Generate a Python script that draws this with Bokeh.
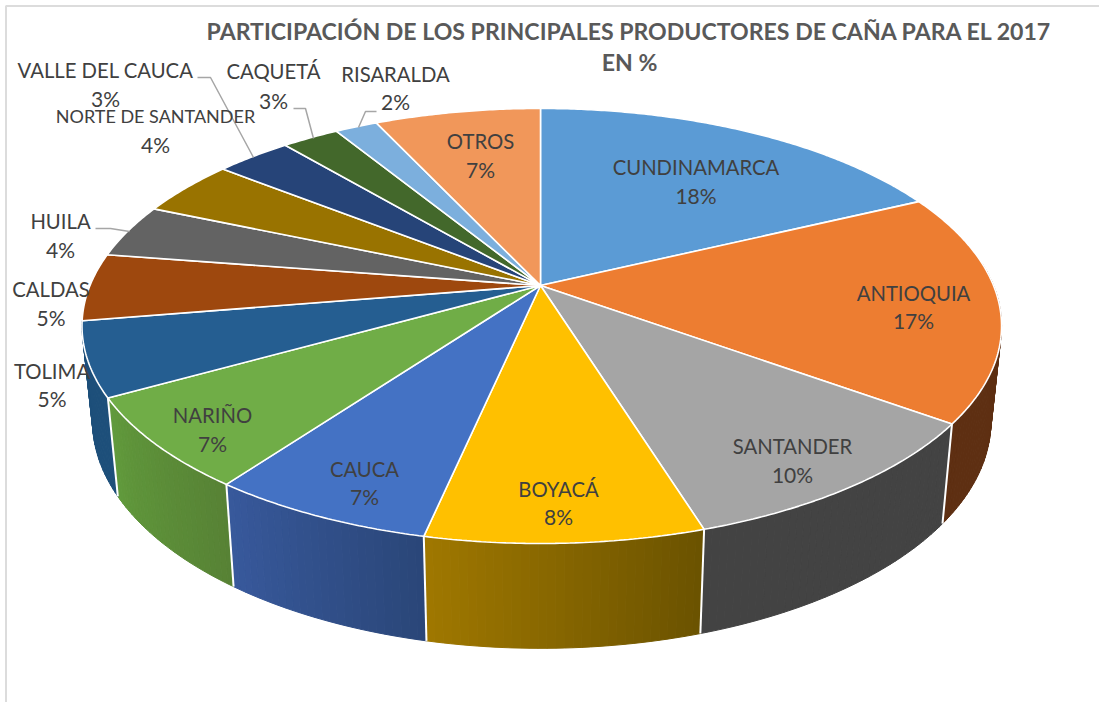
import numpy as np
from bokeh.core.properties import value
from bokeh.embed import file_html
from bokeh.models import Range1d
from bokeh.plotting import figure
from bokeh.resources import INLINE

TITLE_LINES = ["PARTICIPACIÓN DE LOS PRINCIPALES PRODUCTORES DE CAÑA PARA EL 2017", "EN %"]

categories = ["CUNDINAMARCA", "ANTIOQUIA", "SANTANDER", "BOYACÁ", "CAUCA", "NARIÑO", "TOLIMA",
              "CALDAS", "HUILA", "NORTE DE SANTANDER", "VALLE DEL CAUCA", "CAQUETÁ", "RISARALDA", "OTROS"]
# shares estimated from the slice boundaries in the picture
shares = [17.9, 17.1, 10.2, 8.2, 6.7, 6.8, 5.5, 5.0, 4.0, 4.2, 3.2, 2.4, 1.8, 7.0]
# percentages as printed on the labels
printed = ["18%", "17%", "10%", "8%", "7%", "7%", "5%", "5%", "4%", "4%", "3%", "3%", "2%", "7%"]

top_colors = ["#5b9bd5", "#ed7d31", "#a5a5a5", "#ffc000", "#4472c4", "#70ad47", "#255e91",
              "#9e480e", "#636363", "#997300", "#264478", "#43682b", "#7cafdd", "#f1975a"]
wall_from = ["#5e2f12", "#5e2f12", "#434343", "#6a5200", "#2a4678", "#578235", "#1d4f7a",
             None, None, None, None, None, None, None]
wall_to = ["#5e2f12", "#5e2f12", "#434343", "#a07800", "#38599c", "#619a3c", "#1d4f7a",
           None, None, None, None, None, None, None]

# label layout (picture pixels): centre x, y of name line, y of percent line, font px
label_x = [695.5, 913, 792, 558, 364, 212, 51.5, 50.5, 60, 155, 105, 273, 395, 480]
name_y = [166, 292, 445, 488, 468, 414, 370, 288, 220, 115, 69, 70, 73, 140]
pct_y = [195, 320, 474, 516, 496, 443, 398, 317, 249, 144, 98, 100, 101, 169]
name_px = [20.3, 20.3, 20.3, 20.3, 20.3, 20.3, 20.3, 20.3, 20.3, 18, 20.3, 20.3, 20.3, 20.3]

leader_x = [[197, 210, 253], [293, 305, 313], [376, 365, 358], [95, 110, 129]]
leader_y = [[77, 77, 157], [108, 108, 138], [111, 111, 127], [228, 228, 231]]

# perspective of the disc
CX, CY, A_LEFT, A_RIGHT, B, K = 540.0, 285.0, 450.5, 453.0, 210.0, 0.186
SX, SY, Y0 = 0.977, 1.044, 378.5


def top_xy(frac):
    a = 2 * np.pi * np.asarray(frac)
    u, v = np.sin(a), np.cos(a)
    w = 1 + K * v
    return CX + np.where(u > 0, A_RIGHT, A_LEFT) * u / w, CY - B * v / w


def low_xy(frac):
    x, y = top_xy(frac)
    return CX + SX * (x - CX), Y0 + SY * (y - CY)


def hex2rgb(c):
    return np.array([int(c[i:i + 2], 16) for i in (1, 3, 5)], dtype=float)


def mix(c0, c1, t):
    r = hex2rgb(c0) * (1 - t) + hex2rgb(c1) * t
    return "#%02x%02x%02x" % tuple(int(round(q)) for q in r)


p = figure(width=1099, height=702, output_backend="svg", toolbar_location=None,
           x_range=Range1d(0, 1099), y_range=Range1d(702, 0), min_border=0,
           x_axis_type="linear", background_fill_color="white", border_fill_color="white")
p.styles = {"position": "absolute", "left": "0px", "top": "0px"}
p.axis.visible = False
p.grid.visible = False
p.outline_line_color = None

# frame of the picture
p.line([5.5, 5.5, 1099], [702, 5.5, 5.5], line_color="#dcdcdc", line_width=2)

edges = np.concatenate([[0], np.cumsum(shares)]) / sum(shares)

# side walls, drawn as thin strips so the shading can vary
xs, ys, cols = [], [], []
sep_x, sep_y = [], []
for i in range(len(categories)):
    if wall_from[i] is None:
        continue
    f0, f1 = edges[i], edges[i + 1]
    n = max(int((f1 - f0) * 400), 2)
    fr = np.linspace(f0, f1, n + 1)
    tx, ty = top_xy(fr)
    lx, ly = low_xy(fr)
    for j in range(n):
        if np.cos(2 * np.pi * fr[j]) > 0.1 and np.cos(2 * np.pi * fr[j + 1]) > 0.1:
            continue
        xs.append([tx[j], tx[j + 1], lx[j + 1], lx[j]])
        ys.append([ty[j], ty[j + 1], ly[j + 1], ly[j]])
        cols.append(mix(wall_from[i], wall_to[i], (j + 0.5) / n))
    if i < 6:
        sep_x.append([tx[-1], lx[-1]])
        sep_y.append([ty[-1], ly[-1]])
p.patches(xs, ys, fill_color=cols, line_color=cols, line_width=1)
p.multi_line(sep_x, sep_y, line_color="white", line_width=2)

# top face
xs, ys = [], []
for i in range(len(categories)):
    fr = np.linspace(edges[i], edges[i + 1], max(int((edges[i + 1] - edges[i]) * 720), 3))
    tx, ty = top_xy(fr)
    xs.append([CX] + list(tx))
    ys.append([CY] + list(ty))
p.patches(xs, ys, fill_color=top_colors, line_color="white", line_width=1.6)

# leader lines
p.multi_line(leader_x, leader_y, line_color="#a6a6a6", line_width=1.5)

# labels
FONT = value("Lato")
p.text(label_x, name_y, text=categories, text_font=FONT,
       text_font_size=[f"{s}px" for s in name_px],
       text_color="#404040", text_align="center", text_baseline="middle")
p.text(label_x, pct_y, text=printed, text_font=FONT, text_font_size="21px",
       text_color="#404040", text_align="center", text_baseline="middle")

# title
p.text([629, 629], [30, 61], text=TITLE_LINES, text_font=FONT, text_font_size="23.1px",
       text_font_style="bold", text_color="#595959", text_align="center", text_baseline="middle")

open("out.html", "w").write(file_html(p, INLINE))
